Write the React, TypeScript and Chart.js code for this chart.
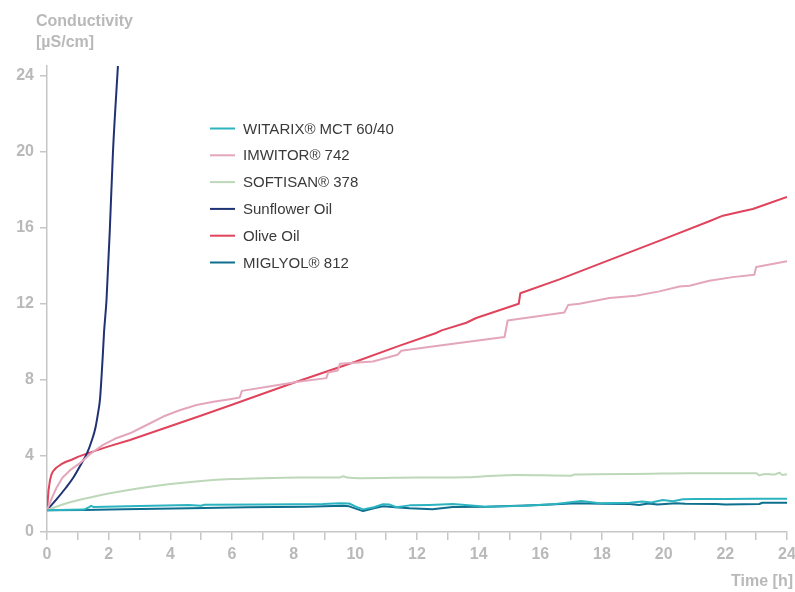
import { useEffect, useRef } from "react";
import { Chart, registerables } from "chart.js";

Chart.register(...registerables);

// ---- Data (time in hours, conductivity in µS/cm) ----
const witarixT = [0, 1.2, 1.35, 1.43, 1.5, 3, 4.6, 5.0, 5.1, 7, 8.95, 9.5, 9.8, 10.0, 10.25, 10.6, 10.9, 11.1, 11.33, 11.76, 12.4, 13.16, 14.25, 15.5, 16.5, 17.33, 17.92, 18.9, 19.3, 19.6, 19.97, 20.3, 20.62, 21, 22, 23, 24];
const witarixV = [1.15, 1.18, 1.3, 1.37, 1.32, 1.37, 1.42, 1.38, 1.43, 1.45, 1.47, 1.51, 1.5, 1.35, 1.19, 1.3, 1.46, 1.45, 1.3, 1.4, 1.42, 1.47, 1.33, 1.38, 1.47, 1.63, 1.51, 1.54, 1.6, 1.55, 1.68, 1.62, 1.72, 1.74, 1.74, 1.75, 1.75];

const imwitorT = [0, 0.15, 0.3, 0.5, 0.75, 1.07, 1.4, 1.82, 2.2, 2.69, 3.2, 3.77, 4.3, 4.85, 5.4, 5.93, 6.25, 6.32, 7.2, 8.2, 9.06, 9.12, 9.43, 9.5, 10.57, 11.37, 11.49, 12.5, 14.84, 14.94, 15.22, 16.78, 16.9, 17.27, 18.24, 19.1, 19.86, 20.51, 20.84, 21.48, 22.24, 22.94, 23.0, 24.0];
const imwitorV = [1.15, 1.75, 2.3, 2.85, 3.25, 3.62, 4.1, 4.58, 4.9, 5.19, 5.6, 6.07, 6.4, 6.68, 6.85, 6.98, 7.07, 7.42, 7.65, 7.91, 8.09, 8.39, 8.49, 8.84, 8.96, 9.32, 9.53, 9.75, 10.25, 11.12, 11.19, 11.54, 11.93, 12.0, 12.3, 12.42, 12.65, 12.91, 12.95, 13.21, 13.4, 13.53, 13.93, 14.23];

const softisanT = [0, 0.64, 1.5, 2, 3, 4, 5, 6, 7, 8.2, 9.5, 9.6, 9.75, 10.14, 12.0, 13.6, 14.2, 15.22, 17.0, 17.1, 19.0, 20.84, 23.0, 23.1, 23.3, 23.6, 23.75, 23.85, 24.0];
const softisanV = [1.15, 1.51, 1.85, 2.02, 2.3, 2.52, 2.68, 2.78, 2.83, 2.86, 2.87, 2.93, 2.86, 2.83, 2.86, 2.88, 2.93, 3.0, 2.96, 3.02, 3.05, 3.09, 3.09, 2.99, 3.05, 3.02, 3.12, 3.0, 3.04];

const sunflowerT = [0, 0.3, 0.6, 0.85, 1.1, 1.3, 1.45, 1.56, 1.65, 1.72, 1.77, 1.81, 1.85, 1.93, 2.04, 2.14, 2.3];
const sunflowerV = [1.15, 1.7, 2.3, 2.85, 3.55, 4.15, 4.8, 5.4, 6.2, 7.0, 8.2, 9.3, 10.5, 12.2, 16, 20, 24.5];

const oliveT = [0, 0.05, 0.1, 0.15, 0.2, 0.3, 0.45, 0.6, 0.8, 1.0, 1.29, 2.0, 2.69, 4.96, 5.93, 8.0, 10.0, 11.44, 12.6, 12.8, 13.6, 13.92, 15.3, 15.35, 16.62, 18.0, 20.0, 21.5, 21.92, 22.56, 22.89, 24.0];
const oliveV = [1.15, 2.2, 2.75, 3.05, 3.2, 3.38, 3.55, 3.68, 3.8, 3.95, 4.12, 4.5, 4.84, 6.1, 6.65, 7.85, 8.95, 9.8, 10.45, 10.6, 11.0, 11.25, 12.0, 12.55, 13.28, 14.15, 15.4, 16.35, 16.63, 16.86, 16.98, 17.62];

const miglyolT = [0, 1.2, 2.5, 4.63, 6.5, 8.4, 9.6, 9.8, 10.25, 10.6, 10.9, 11.3, 11.76, 12.5, 13.16, 14.25, 16, 17.16, 18, 18.9, 19.2, 19.5, 19.8, 20.4, 20.7, 21.7, 22.0, 23.1, 23.2, 24];
const miglyolV = [1.15, 1.16, 1.2, 1.25, 1.3, 1.33, 1.38, 1.35, 1.1, 1.25, 1.35, 1.3, 1.25, 1.2, 1.32, 1.33, 1.42, 1.51, 1.48, 1.47, 1.42, 1.5, 1.45, 1.51, 1.48, 1.47, 1.45, 1.47, 1.54, 1.54];

const SERIES_LABELS = ["WITARIX® MCT 60/40", "IMWITOR® 742", "SOFTISAN® 378", "Sunflower Oil", "Olive Oil", "MIGLYOL® 812"];
const SERIES_COLORS = ["#2bb4c0", "#e3a6ba", "#bdd7b9", "#1f3273", "#e0435c", "#0f6f8f"];
const SERIES_SMOOTH = [false, false, true, true, false, false];
const SERIES_T = [witarixT, imwitorT, softisanT, sunflowerT, oliveT, miglyolT];
const SERIES_V = [witarixV, imwitorV, softisanV, sunflowerV, oliveV, miglyolV];

const Y_TICKS = [0, 4, 8, 12, 16, 20, 24];
const Y_TITLE = ["Conductivity", "[µS/cm]"];
const X_TITLE = "Time [h]";

const FONT = '"Liberation Sans", Arial, Helvetica, sans-serif';
const AXIS_GREY = "#c6c6c6";
const LABEL_GREY = "#b9b9b9";

const overlayPlugin = {
  id: "overlay",
  afterDraw(chart: any) {
    const ctx = chart.ctx as CanvasRenderingContext2D;
    ctx.save();
    ctx.fillStyle = LABEL_GREY;
    ctx.font = `bold 16px ${FONT}`;
    ctx.textAlign = "left";
    ctx.textBaseline = "alphabetic";
    ctx.fillText(Y_TITLE[0], 36, 26);
    ctx.fillText(Y_TITLE[1], 36, 47);
    ctx.textAlign = "right";
    ctx.fillText(X_TITLE, 793, 586);

    // legend inside plot
    ctx.font = `15px ${FONT}`;
    ctx.textAlign = "left";
    ctx.textBaseline = "middle";
    chart.data.datasets.forEach((ds: any, i: number) => {
      const y = 128.5 + i * 26.8;
      ctx.strokeStyle = ds.borderColor;
      ctx.lineWidth = 2;
      ctx.beginPath();
      ctx.moveTo(210, y);
      ctx.lineTo(235, y);
      ctx.stroke();
      ctx.fillStyle = "#3a3a3a";
      ctx.fillText(ds.label, 243, y + 1);
    });
    ctx.restore();
  },
};

export default function App() {
  const ref = useRef<HTMLCanvasElement | null>(null);

  useEffect(() => {
    if (!ref.current) return;
    const datasets = SERIES_LABELS.map((label, i) => ({
      label,
      data: SERIES_T[i].map((t, j) => ({ x: t, y: SERIES_V[i][j] })),
      borderColor: SERIES_COLORS[i],
      backgroundColor: SERIES_COLORS[i],
      borderWidth: 2,
      pointRadius: 0,
      fill: false,
      tension: 0,
      cubicInterpolationMode: SERIES_SMOOTH[i] ? ("monotone" as const) : ("default" as const),
      borderJoinStyle: "round" as const,
    }));

    const chart = new Chart(ref.current, {
      type: "line",
      data: { datasets },
      options: {
        animation: false,
        responsive: true,
        maintainAspectRatio: false,
        layout: { padding: { left: 0, top: 66, right: 8, bottom: 0 } },
        plugins: { legend: { display: false }, tooltip: { enabled: false } },
        scales: {
          x: {
            type: "linear",
            min: 0,
            max: 24,
            ticks: {
              stepSize: 1,
              autoSkip: false,
              maxRotation: 0,
              padding: 5,
              color: LABEL_GREY,
              font: { family: FONT, size: 16, weight: "bold" },
              callback: (v: any) => (Number(v) % 2 === 0 ? String(v) : ""),
            },
            grid: { drawOnChartArea: false, drawTicks: true, tickLength: 8, color: AXIS_GREY, lineWidth: 1.5 },
            border: { color: AXIS_GREY, width: 1.5 },
            afterFit: (s: any) => {
              s.height = 60;
              s.paddingRight = 0;
              s.paddingLeft = 0;
            },
          },
          y: {
            type: "linear",
            min: 0,
            max: 24.5,
            afterBuildTicks: (s: any) => {
              s.ticks = Y_TICKS.map((v) => ({ value: v }));
            },
            ticks: {
              padding: 6,
              color: LABEL_GREY,
              font: { family: FONT, size: 16, weight: "bold" },
            },
            grid: { drawOnChartArea: false, drawTicks: true, tickLength: 7, color: AXIS_GREY, lineWidth: 1.5 },
            border: { color: AXIS_GREY, width: 1.5 },
            afterFit: (s: any) => {
              s.width = 47;
              s.paddingTop = 0;
              s.paddingBottom = 0;
            },
          },
        },
      } as any,
      plugins: [overlayPlugin],
    });
    return () => chart.destroy();
  }, []);

  return (
    <div style={{ position: "fixed", left: 0, top: 0, width: 795, height: 592, background: "#fff" }}>
      <canvas ref={ref} />
    </div>
  );
}
